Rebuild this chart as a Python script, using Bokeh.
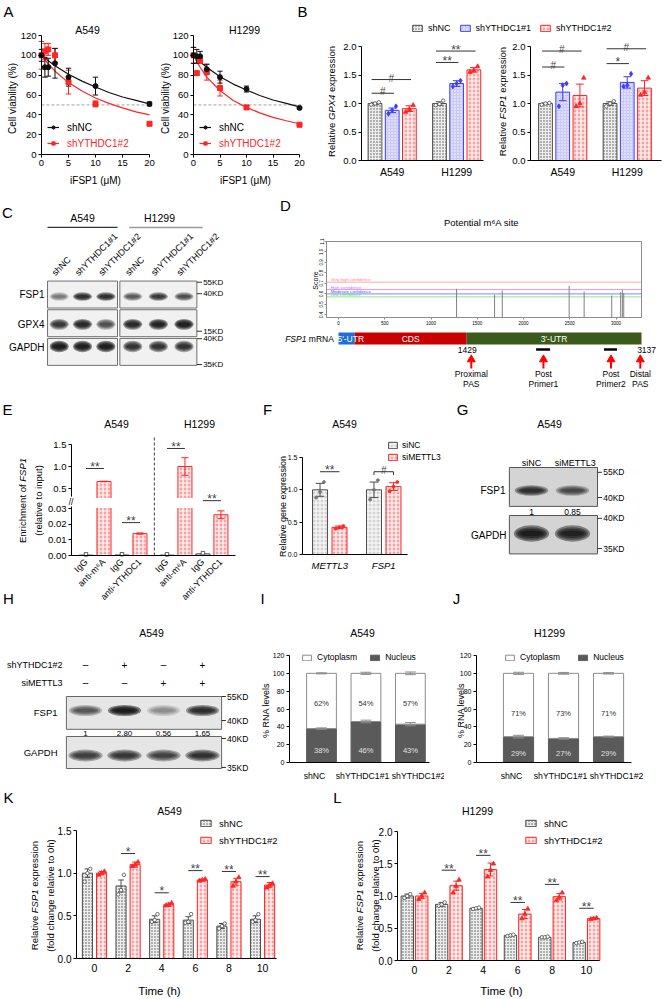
import math
from bokeh.plotting import figure
from bokeh.models import (Label, Range1d, FixedTicker, Legend, LegendItem, PrintfTickFormatter)
from bokeh.layouts import row, column
from bokeh.embed import file_html
from bokeh.resources import INLINE
from bokeh.core.properties import value

FONT = "Liberation Sans"
RED = "#ff2525"
DARK = "#4d4d4d"

# ============================ DATA ============================
# A: cell viability (%) vs iFSP1 (uM)
conc = [0, 0.625, 1.25, 2.5, 5, 10, 20]
a549_shNC = [100, 88, 88, 92, 78, 69, 51]
a549_shNC_sd = [6, 10, 9, 15, 9, 9, 2]
a549_sh2 = [100, 104, 106, 100, 73, 51, 31]
a549_sh2_sd = [14, 8, 6, 7, 12, 3, 1]
h1299_shNC = [100, 99, 99, 86, 78, 66, 47]
h1299_shNC_sd = [8, 7, 5, 5, 6, 3, 1]
h1299_sh2 = [100, 82, 95, 83, 67, 47.5, 30]
h1299_sh2_sd = [8, 2, 3, 8, 8, 2, 1]
fit_conc = [0, 0.625, 1.25, 2.5, 5, 7.5, 10, 12.5, 15, 17.5, 20]
a549_fit_shNC = [100, 97, 94.5, 89.5, 81, 74, 68, 62.5, 58, 54.5, 51]
a549_fit_sh2 = [100, 95.5, 91.5, 84, 72.5, 64, 57, 51.5, 47, 43, 40]
h1299_fit_shNC = [100, 97, 93.5, 88, 78.5, 71, 65, 59.5, 55, 51.5, 48]
h1299_fit_sh2 = [100, 93.5, 88, 78, 64.5, 54.5, 47.5, 42, 37.5, 34, 31]

# B: relative expression (per group: [A549, H1299])
cells = ["A549", "H1299"]
sh_groups = ["shNC", "shYTHDC1#1", "shYTHDC1#2"]
gpx4_mean = [[1.00, 1.00], [0.88, 1.35], [0.91, 1.59]]
gpx4_se = [[0.02, 0.03], [0.04, 0.05], [0.05, 0.04]]
gpx4_pts = [[[0.98, 1.00, 1.02], [0.97, 0.99, 1.05]],
            [[0.82, 0.88, 0.95], [1.30, 1.35, 1.40]],
            [[0.85, 0.90, 0.97], [1.55, 1.58, 1.65]]]
gpx4_sig = [(0, 0, 1, 1.18, "#"), (0, 0, 2, 1.42, "#"), (1, 0, 1, 1.72, "**"), (1, 0, 2, 1.92, "**")]
fsp1_mean = [[1.00, 1.00], [1.20, 1.37], [1.14, 1.27]]
fsp1_se = [[0.01, 0.03], [0.15, 0.10], [0.20, 0.13]]
fsp1_pts = [[[0.98, 1.00, 1.01], [0.95, 1.00, 1.04]],
            [[0.95, 1.32, 1.35], [1.30, 1.32, 1.52]],
            [[0.95, 1.00, 1.45], [1.15, 1.20, 1.45]]]
fsp1_sig = [(0, 0, 1, 1.64, "#"), (0, 0, 2, 1.92, "#"), (1, 0, 1, 1.70, "*"), (1, 0, 2, 1.96, "#")]

# C: western blot band intensities (rows: FSP1, GPX4, GAPDH; lanes A549 x3, H1299 x3)
C_lane_x = [0, 1, 2, 3.15, 4.25, 5.35]
C_lane_names = ["shNC", "shYTHDC1#1", "shYTHDC1#2", "shNC", "shYTHDC1#1", "shYTHDC1#2"]
C_proteins = ["FSP1", "GPX4", "GAPDH"]
C_intensity = [[0.35, 0.80, 0.80, 0.50, 0.70, 0.55],
               [0.70, 0.85, 0.55, 0.85, 0.90, 0.95],
               [1.00, 0.95, 0.95, 0.75, 0.75, 0.75]]
C_kd = ["55KD", "40KD", "15KD", "40KD", "35KD"]
C_kd_y = [0.06, 0.46, 1.77, 2.03, 2.93]

# D: SRAMP potential m6A sites
site_pos = [1276, 1687, 1770, 2493, 2655, 2953, 3050, 3068, 3083]
site_score = [0.649, 0.594, 0.633, 0.677, 0.623, 0.585, 0.616, 0.639, 0.607]
conf_names = ["Very high confidence", "High confidence", "Moderate confidence", "Low confidence"]
conf_levels = [0.712, 0.642, 0.600, 0.572]
conf_colors = ["#ff8080", "#d070f0", "#5050ff", "#60e060"]
reg_names = ["5'-UTR", "CDS", "3'-UTR"]
reg_start = [0, 175, 1385]
reg_end = [175, 1385, 3275]
reg_colors = ["#1f6fd6", "#c80000", "#3b5a1c"]
primer_start = [2136, 2870]
primer_end = [2287, 3010]
mark_x = [1435, 2215, 2945, 3262]
mark_l1 = ["Proximal", "Post", "Post", "Distal"]
mark_l2 = ["PAS", "Primer1", "Primer2", "PAS"]
pas_labels = ["1429", "3137"]
pas_label_x = [1392, 3330]

# E: RIP enrichment of FSP1
E_x = [0, 1, 2, 3, 4.5, 5.5, 6.5, 7.5]
E_labels = ["IgG", "anti-m⁶A", "IgG", "anti-YTHDC1", "IgG", "anti-m⁶A", "IgG", "anti-YTHDC1"]
E_val = [0.0002, 0.66, 0.0003, 0.014, 0.0002, 1.00, 0.0010, 0.026]
E_err = [0.0001, 0.005, 0.0001, 0.0004, 0.0001, 0.20, 0.0002, 0.0025]
E_yticks = [0, 0.01, 0.02, 0.03, 0.5, 1.0, 1.5]
E_ytick_labels = ["0.00", "0.01", "0.02", "0.03", "0.5", "1.0", "1.5"]
E_sig = [(0, 1, 0.955), (2, 3, 0.021), (4.5, 5.5, 1.41), (6.5, 7.5, 0.035)]

# F: siMETTL3 qPCR
F_genes = ["METTL3", "FSP1"]
F_siNC = [1.00, 1.00]
F_siNC_se = [0.10, 0.12]
F_siM = [0.42, 1.05]
F_siM_se = [0.02, 0.06]
F_siNC_pts = [[0.88, 0.97, 1.12], [0.85, 1.00, 1.15]]
F_siM_pts = [[0.40, 0.42, 0.44], [0.98, 1.05, 1.12]]
F_sig = [(0, 1.28, "**"), (1, 1.28, "#")]

# G: blot siNC / siMETTL3
G_lanes = ["siNC", "siMETTL3"]
G_lane_x = [0, 1]
G_fsp1 = [0.75, 0.55]
G_gapdh = [0.95, 0.90]
G_ratio = ["1", "0.85"]
G_kd = ["55KD", "40KD", "40KD", "35KD"]
G_kd_y = [0.10, 0.625, 1.06, 1.69]

# H: blot shYTHDC1#2 / siMETTL3
H_lane_x = [0, 1, 2, 3]
H_sh = ["–", "+", "–", "+"]
H_si = ["–", "–", "+", "+"]
H_fsp1 = [0.50, 1.00, 0.25, 0.80]
H_gapdh = [0.65, 0.70, 0.62, 0.75]
H_ratio = ["1", "2.80", "0.56", "1.65"]
H_kd = ["55KD", "40KD", "40KD", "35KD"]
H_kd_y = [0.0, 0.60, 1.05, 1.775]

# I / J: nuclear / cytoplasmic fractions
IJ_groups = ["shNC", "shYTHDC1#1", "shYTHDC1#2"]
I_nuc = [38, 46, 43]
I_cyto = [62, 54, 57]
I_nuc_se = [0.8, 1.5, 1.8]
I_tot_se = [0.6, 1.2, 1.5]
J_nuc = [29, 27, 29]
J_cyto = [71, 73, 71]
J_nuc_se = [1.5, 0.8, 0.6]
J_tot_se = [1.2, 1.0, 0.8]

# K / L: FSP1 mRNA decay
times = [0, 2, 4, 6, 8, 10]
K_shNC = [1.00, 0.85, 0.46, 0.45, 0.38, 0.46]
K_shNC_se = [0.05, 0.07, 0.04, 0.04, 0.03, 0.04]
K_sh2 = [1.00, 1.10, 0.63, 0.92, 0.90, 0.86]
K_sh2_se = [0.02, 0.03, 0.02, 0.01, 0.04, 0.03]
K_shNC_pts = [[0.90, 1.00, 1.05], [0.75, 0.80, 0.98], [0.43, 0.45, 0.52], [0.42, 0.43, 0.52], [0.35, 0.38, 0.41], [0.43, 0.45, 0.52]]
K_sh2_pts = [[0.98, 1.00, 1.02], [1.08, 1.10, 1.13], [0.62, 0.63, 0.65], [0.91, 0.92, 0.93], [0.85, 0.90, 0.95], [0.83, 0.86, 0.88]]
K_sig = [(2, 1.23, "*"), (4, 0.77, "*"), (6, 1.03, "**"), (8, 1.02, "**"), (10, 0.96, "**")]
L_shNC = [1.00, 0.87, 0.81, 0.39, 0.36, 0.28]
L_shNC_se = [0.03, 0.03, 0.01, 0.01, 0.01, 0.01]
L_sh2 = [1.00, 1.16, 1.41, 0.72, 0.99, 0.65]
L_sh2_se = [0.04, 0.07, 0.10, 0.07, 0.05, 0.01]
L_shNC_pts = [[0.97, 1.00, 1.03], [0.85, 0.87, 0.90], [0.80, 0.81, 0.82], [0.38, 0.39, 0.40], [0.36, 0.36, 0.37], [0.27, 0.28, 0.29]]
L_sh2_pts = [[0.95, 1.00, 1.05], [1.05, 1.15, 1.25], [1.30, 1.40, 1.50], [0.65, 0.72, 0.80], [0.93, 0.98, 1.05], [0.64, 0.65, 0.66]]
L_sig = [(2, 1.40, "**"), (4, 1.63, "**"), (6, 0.90, "**"), (8, 1.18, "**"), (10, 0.81, "**")]

# ============================ HELPERS ============================
# reference pixel -> page pixel (page body has no margin; keep 1px slack on the right/bottom)


def T(rx):
    return int(round(rx - 1))


def V(ry):
    return int(round(ry))


_W = {' ': 278, '!': 278, '%': 889, '(': 333, ')': 333, '#': 556, '.': 278, ',': 278, '-': 333,
      '/': 278, "'": 191, '+': 584, '–': 556, 'μ': 576, '⁶': 333, ':': 278}
_U = dict(A=667, B=667, C=722, D=722, E=667, F=611, G=778, H=722, I=278, J=500, K=667, L=556, M=833,
          N=722, O=778, P=667, Q=778, R=722, S=667, T=611, U=722, V=667, W=944, X=667, Y=667, Z=611)
_L = dict(a=556, b=556, c=500, d=556, e=556, f=278, g=556, h=556, i=222, j=222, k=500, l=222, m=833,
          n=556, o=556, p=556, q=556, r=333, s=500, t=278, u=556, v=500, w=722, x=500, y=500, z=500)


def tw(s, size):
    return sum(_W.get(c, _U.get(c, _L.get(c, 556))) for c in s) / 1000.0 * size


class Pan:
    pass


def mkp(box, area=None, xd=(0, 1), yd=(0, 1), axes=True, xr_obj=None, xb=None, yb=None):
    """Full-frame figure. `area` (ref px) is where data xd (left,right) / yd (bottom,top) lie."""
    x0, x1, y0, y1 = box
    if area is None:
        area = box
    fx0, fx1, fy0, fy1 = area
    rx0, rx1 = T(x0) + 1, T(x1) + 1
    ry0, ry1 = V(y0), V(y1)

    def fxm(rx):
        return xd[0] + (rx - fx0) / (fx1 - fx0) * (xd[1] - xd[0])

    def fym(ry):
        return yd[1] + (ry - fy0) / (fy1 - fy0) * (yd[0] - yd[1])

    xr = xr_obj if xr_obj is not None else Range1d(fxm(rx0), fxm(rx1))
    yr = Range1d(fym(ry1), fym(ry0))
    kw = {} if axes else dict(x_axis_location=None, y_axis_location=None)
    p = figure(width=T(x1) - T(x0), height=V(y1) - V(y0), x_range=xr, y_range=yr,
               output_backend="svg", toolbar_location=None, title=None, min_border=0,
               min_border_left=0, min_border_right=0, min_border_top=0, min_border_bottom=0, **kw)
    p.outline_line_color = None
    p.background_fill_color = "white"
    p.border_fill_color = "white"
    p.grid.visible = False
    if axes:
        p.xaxis.fixed_location = yd[0]
        p.yaxis.fixed_location = xd[0]
        p.xaxis.bounds = tuple(xb or xd)
        p.yaxis.bounds = tuple(yb or yd)
    P = Pan()
    P.p = p
    P.fl = T(x0)
    P.fb = V(y1)
    return P


def lab(P, rx, ry, text, size=10, color="black", align="center", baseline="middle", angle=0,
        style="normal", bg=None):
    kw = dict(background_fill_color=bg) if bg else {}
    P.p.add_layout(Label(x=(rx - 1) - P.fl, y=P.fb - ry, x_units="screen", y_units="screen",
                         text=text, text_font=FONT, text_font_size=f"{size}px", text_color=color,
                         text_align=align, text_baseline=baseline, angle=angle,
                         text_font_style=style, **kw))


def rich(P, rx, ry, segs, size, vertical=True, color="black"):
    total = sum(tw(t, size) for t, _ in segs)
    pos = -total / 2.0
    for t, st in segs:
        lead = len(t) - len(t.lstrip())
        off = pos + tw(" " * lead, size)
        if vertical:
            lab(P, rx, ry - off, t.strip(), size, color, "left", "middle", math.pi / 2, st)
        else:
            lab(P, rx + off, ry, t.strip(), size, color, "left", "middle", 0, st)
        pos += tw(t, size)


def legend(P, items, rx, ry, size, color="black", orientation="vertical", gw=12, gh=8, standoff=6,
           spacing=4):
    ih = round(size * 1.3)
    n = len(items)
    if orientation == "vertical":
        bottom = ry - ih / 2.0 + n * ih + (n - 1) * spacing
    else:
        bottom = ry + ih / 2.0
    loc = ((rx - 1) - P.fl, P.fb - bottom)
    lg = Legend(items=[LegendItem(label=l, renderers=r) for l, r in items], location=loc,
                orientation=orientation, label_text_font=FONT, label_text_font_size=f"{size}px",
                label_text_color=color, glyph_width=gw, glyph_height=gh, label_standoff=standoff,
                spacing=spacing, padding=0, margin=0, border_line_color=None,
                background_fill_alpha=0, label_height=ih, label_width=5)
    P.p.add_layout(lg)


def axstyle(p, xsize=10, ysize=10, xticks=True, color="black"):
    for ax in list(p.xaxis) + list(p.yaxis):
        ax.axis_line_color = color
        ax.axis_line_width = 1
        ax.major_tick_line_color = color
        ax.major_tick_out = 3
        ax.major_tick_in = 0
        ax.minor_tick_line_color = None
        ax.major_label_text_font = FONT
        ax.major_label_standoff = 2
        ax.major_label_text_color = "black"
    for ax in p.xaxis:
        ax.major_label_text_font_size = f"{xsize}px"
        if not xticks:
            ax.major_tick_line_color = None
    for ax in p.yaxis:
        ax.major_label_text_font_size = f"{ysize}px"


def errbars(p, xs, ms, es, color, cap, width=1):
    lo = [m - e for m, e in zip(ms, es)]
    hi = [m + e for m, e in zip(ms, es)]
    p.segment(x0=xs, y0=lo, x1=xs, y1=hi, line_color=color, line_width=width)
    p.segment(x0=[x - cap for x in xs], y0=hi, x1=[x + cap for x in xs], y1=hi, line_color=color, line_width=width)
    p.segment(x0=[x - cap for x in xs], y0=lo, x1=[x + cap for x in xs], y1=lo, line_color=color, line_width=width)


def points(p, xs, pts, dx, marker, size, fill, line):
    px, py = [], []
    for x, vals in zip(xs, pts):
        for k, v in enumerate(vals):
            px.append(x + (k - (len(vals) - 1) / 2.0) * dx)
            py.append(v)
    p.scatter(px, py, marker=marker, size=size, fill_color=fill, line_color=line, line_width=0.8)


def sig(p, x1, x2, y, txt, bracket=0.0):
    p.segment(x0=[x1], y0=[y], x1=[x2], y1=[y], line_color="#333333", line_width=1)
    if bracket:
        p.segment(x0=[x1, x2], y0=[y, y], x1=[x1, x2], y1=[y - bracket, y - bracket],
                  line_color="#333333", line_width=1)
    size = 10 if txt == "#" else 12
    p.add_layout(Label(x=(x1 + x2) / 2.0, y=y, text=txt, text_font=FONT, text_font_size=f"{size}px",
                       text_align="center", text_baseline="alphabetic", y_offset=1.5))


S_NC = dict(fill_color="#ececec", line_color=DARK, hatch_pattern="dot", hatch_color="#555555",
            hatch_scale=3.0, hatch_weight=0.6)
S_1 = dict(fill_color="#c9caf7", line_color="#3c3cff", hatch_pattern="dot", hatch_color="#ffffff",
           hatch_scale=3.0, hatch_weight=0.7)
S_2 = dict(fill_color="#f7a3a3", line_color=RED, hatch_pattern="cross", hatch_color="#ffffff",
           hatch_scale=4.0, hatch_weight=1.2)
S_SI = dict(fill_color="#d3d3d3", line_color=DARK, hatch_pattern="cross", hatch_color="#ffffff",
            hatch_scale=4.0, hatch_weight=1.0)
MK_NC = ("circle", 3.5, "white", DARK)
MK_1 = ("diamond", 5, "#3c3cff", "#3c3cff")
MK_2 = ("triangle", 4.5, RED, RED)


def blotbands(p, xs, yc, inten, w, h):
    for k in range(4):
        p.ellipse(x=xs, y=[yc] * len(xs), width=w * (1 - 0.12 * k), height=h * (1 - 0.22 * k),
                  fill_color="#0c0c0c", fill_alpha=[0.47 * i for i in inten], line_color=None)


def dtext(p, xs, ys, texts, size, align="center", color="black", style="normal", angle=0, baseline="middle"):
    p.text(x=xs, y=ys, text=texts, text_font=value(FONT), text_font_size=f"{size}px", text_align=align,
           text_baseline=baseline, text_color=color, text_font_style=style, angle=angle)


# ============================ PANEL A ============================
def viability(box, area, title, tx, m1, e1, m2, e2, f1, f2, ylab_x, xlab_x, leg_x):
    P = mkp(box, area, (0, 20), (0, 120))
    p = P.p
    axstyle(p, 9.5, 9.5)
    p.xaxis.ticker = FixedTicker(ticks=[0, 5, 10, 15, 20])
    p.yaxis.ticker = FixedTicker(ticks=[0, 20, 40, 60, 80, 100, 120])
    p.segment(x0=[0], y0=[50], x1=[20.3], y1=[50], line_color="#a0a0a0", line_dash="3 2", line_width=1)
    l1 = p.line(fit_conc, f1, line_color="#111111", line_width=1.2)
    l2 = p.line(fit_conc, f2, line_color=RED, line_width=1.2)
    errbars(p, conc, m2, e2, RED, 0.5)
    errbars(p, conc, m1, e1, "#111111", 0.5)
    s2 = p.scatter(conc, m2, marker="square", size=5, color=RED)
    s1 = p.scatter(conc, m1, marker="circle", size=5, color="#111111")
    lab(P, tx, 29, title, 10.5)
    lab(P, ylab_x, 98, "Cell viability (%)", 10, angle=math.pi / 2)
    lab(P, xlab_x, 180, "iFSP1 (μM)", 10)
    legend(P, [("shNC", [l1, s1])], leg_x, 127, 10, color="black", gw=12, gh=8, standoff=8)
    legend(P, [("shYTHDC1#2", [l2, s2])], leg_x, 143, 10, color=RED, gw=12, gh=8, standoff=8)
    return P


A1 = viability((1, 156, 0, 195), (42, 150, 35, 154), "A549", 88, a549_shNC, a549_shNC_sd, a549_sh2,
               a549_sh2_sd, a549_fit_shNC, a549_fit_sh2, 13, 96, 48)
lab(A1, 9, 11, "A", 15)
A2 = viability((156, 310, 0, 195), (194, 300, 35, 154), "H1299", 245, h1299_shNC, h1299_shNC_sd, h1299_sh2,
               h1299_sh2_sd, h1299_fit_shNC, h1299_fit_sh2, 166, 246, 200)
lab(A2, 303, 11, "B", 15)

# ============================ PANEL B ============================
Bleg = mkp((310, 664, 0, 38), None, (0, 1), (0, 1), axes=False)
leg_r = [Bleg.p.vbar(x=[5], top=[1], width=0.5, line_width=1, **s) for s in (S_NC, S_1, S_2)]
legend(Bleg, [(g, [r]) for g, r in zip(sh_groups, leg_r)], 412, 28, 9, orientation="horizontal",
       gw=12, gh=8, standoff=5, spacing=8)


def expr(box, area, xd, means, ses, pts, sigs, segs, ylab_x):
    P = mkp(box, area, xd, (0, 2.0))
    p = P.p
    axstyle(p, 10.5, 9.5, xticks=False)
    p.xaxis.ticker = FixedTicker(ticks=[1, 4.75])
    p.xaxis.major_label_overrides = {1: cells[0], 4.75: cells[1]}
    p.yaxis.ticker = FixedTicker(ticks=[0, 0.5, 1.0, 1.5, 2.0])
    p.yaxis.formatter = PrintfTickFormatter(format="%.1f")
    for j, (m, e, pt, sty, mkr) in enumerate(zip(means, ses, pts, (S_NC, S_1, S_2), (MK_NC, MK_1, MK_2))):
        xs = [i * 3.75 + j for i in range(len(m))]
        p.vbar(x=xs, top=m, bottom=0, width=0.8, line_width=1, **sty)
        errbars(p, xs, m, e, sty["line_color"], 0.22)
        points(p, xs, pt, 0.22, *mkr)
    for c, g1, g2, y, t in sigs:
        sig(p, c * 3.75 + g1 - 0.2, c * 3.75 + g2 + 0.1, y, t)
    rich(P, ylab_x, 101, segs, 9.5)
    return P


B1 = expr((310, 495, 38, 195), (362, 484, 46, 160), (-0.785, 6.31), gpx4_mean, gpx4_se, gpx4_pts, gpx4_sig,
          [("Relative ", "normal"), ("GPX4", "italic"), (" expression", "normal")], 332)
B2 = expr((495, 664, 38, 195), (531, 662, 46, 160), (-0.872, 6.74), fsp1_mean, fsp1_se, fsp1_pts, fsp1_sig,
          [("Relative ", "normal"), ("FSP1", "italic"), (" expression", "normal")], 503)

# ============================ PANEL C ============================
C = mkp((1, 280, 195, 400), (59.7, 83.03, 280, 308.67), (0, 1), (1, 0), axes=False)
pc = C.p
c_boxes = [(-0.5, 2.5), (2.6, 5.9)]
for r in range(3):
    pc.quad(left=[b[0] for b in c_boxes], right=[b[1] for b in c_boxes], top=[r + 0.02] * 2,
            bottom=[r + 0.96] * 2, fill_color="#f1f1f1", line_color="#707070", line_width=1)
for r, (yo, hh) in enumerate([(0.56, 0.30), (0.53, 0.38), (0.30, 0.40)]):
    blotbands(pc, C_lane_x, r + yo, C_intensity[r], 0.82, hh)
dtext(pc, [x - 0.25 for x in C_lane_x], [-0.22] * 6, C_lane_names, 9, align="left", angle=math.pi / 4)
pc.segment(x0=[-0.5], y0=[-1.85], x1=[2.5], y1=[-1.85], line_color="#333333", line_width=1.2)
pc.segment(x0=[3.0], y0=[-1.85], x1=[6.15], y1=[-1.85], line_color="#9a9a9a", line_width=1.5)
pc.segment(x0=[5.9] * 5, y0=C_kd_y, x1=[6.12] * 5, y1=C_kd_y, line_color="#333333", line_width=1)
dtext(pc, [6.17] * 5, C_kd_y, C_kd, 8, align="left")
lab(C, 83, 217, "A549", 10.5)
lab(C, 160, 217, "H1299", 10.5)
for name, yy in zip(C_proteins, [294, 324, 347]):
    lab(C, 45, yy, name, 10, align="right")
lab(C, 8, 212, "C", 15)

# ============================ PANEL D ============================
Dt = mkp((280, 664, 195, 328), (327, 642, 241, 317), (-130, 3275), (0.375, 1.1))
D_xr = Dt.p.x_range
pd = Dt.p
axstyle(pd, 4.5, 4.5, color="#8c8c8c")
for ax in list(pd.xaxis) + list(pd.yaxis):
    ax.major_tick_out = 2
    ax.major_label_standoff = 1
pd.xaxis.ticker = FixedTicker(ticks=[0, 500, 1000, 1500, 2000, 2500, 3000])
pd.yaxis.ticker = FixedTicker(ticks=[0.4, 0.5, 0.6, 0.7, 0.8, 0.9, 1.0, 1.1])
pd.yaxis.formatter = PrintfTickFormatter(format="%.1f")
pd.yaxis.major_label_orientation = "vertical"
pd.quad(left=[-130], right=[3275], bottom=[0.375], top=[1.1], fill_color=None, line_color="#8c8c8c", line_width=1)
pd.segment(x0=[-130] * 4, y0=conf_levels, x1=[3275] * 4, y1=conf_levels, line_color=conf_colors, line_width=1,
           line_alpha=0.7)
for nm, lv, cl in zip(conf_names, conf_levels, conf_colors):
    pd.add_layout(Label(x=-85, y=lv, text=nm, text_font=FONT, text_font_size="4.3px", text_color=cl,
                        text_align="left", text_baseline="bottom"))
pd.segment(x0=site_pos, y0=[0.375] * len(site_pos), x1=site_pos, y1=site_score, line_color="#808080",
           line_width=1)
lab(Dt, 482, 222, "Potential m⁶A site", 9.5)
lab(Dt, 316, 280, "Score", 7, angle=math.pi / 2)
lab(Dt, 286, 205, "D", 15)

Db = mkp((280, 664, 328, 400), (327, 642, 328, 400), (-130, 3275), (400, 328), axes=False, xr_obj=D_xr)
pb = Db.p
pb.quad(left=reg_start, right=reg_end, top=[332] * 3, bottom=[344] * 3, fill_color=reg_colors, line_color=None)
dtext(pb, [-12], [338.5], [reg_names[0]], 8.5, align="left", color="white")
dtext(pb, [(reg_start[1] + reg_end[1]) / 2.0, (reg_start[2] + reg_end[2]) / 2.0], [338.5, 338.5],
      reg_names[1:], 8.5, color="white")
pb.segment(x0=primer_start, y0=[349] * 2, x1=primer_end, y1=[349] * 2, line_color="black", line_width=2.5)
pb.segment(x0=mark_x, y0=[368] * 4, x1=mark_x, y1=[360] * 4, line_color="#ff0000", line_width=2)
pb.scatter(mark_x, [359] * 4, marker="triangle", size=8, fill_color="#ff0000", line_color="#ff0000")
dtext(pb, pas_label_x, [349, 349], pas_labels, 8.5)
dtext(pb, mark_x, [373.5] * 4, mark_l1, 8.5)
dtext(pb, mark_x, [383] * 4, mark_l2, 8.5)
rich(Db, 310, 338, [("FSP1", "italic"), (" mRNA", "normal")], 8.5, vertical=False)


# ============================ PANEL E ============================
def disp(v):
    return v / 0.03 * 47.0 if v <= 0.1 else 67.0 + (v - 0.5) * 44.0


E = mkp((1, 258, 400, 608), (72, 236, 444, 555), (-0.806, 8.31), (0, 111))
pe = E.p
axstyle(pe, 9, 9.5, xticks=False)
pe.xaxis.ticker = FixedTicker(ticks=E_x)
pe.xaxis.major_label_overrides = {x: l for x, l in zip(E_x, E_labels)}
pe.xaxis.major_label_orientation = math.pi / 4
pe.yaxis.ticker = FixedTicker(ticks=[disp(v) for v in E_yticks])
pe.yaxis.major_label_overrides = {disp(v): l for v, l in zip(E_yticks, E_ytick_labels)}
igg = [i for i in range(8) if i % 2 == 0]
anti = [i for i in range(8) if i % 2 == 1]
pe.vbar(x=[E_x[i] for i in anti], top=[disp(E_val[i]) for i in anti], bottom=0, width=0.78, line_width=1, **S_2)
pe.vbar(x=[E_x[i] for i in igg], top=[disp(E_val[i]) for i in igg], bottom=0, width=0.78, fill_color=None,
        line_color="#333333", line_width=1)
lo = [disp(E_val[i] - E_err[i]) for i in anti]
hi = [disp(E_val[i] + E_err[i]) for i in anti]
pe.segment(x0=[E_x[i] for i in anti], y0=lo, x1=[E_x[i] for i in anti], y1=hi, line_color=RED, line_width=1)
pe.segment(x0=[E_x[i] - 0.2 for i in anti], y0=hi, x1=[E_x[i] + 0.2 for i in anti], y1=hi, line_color=RED)
pe.segment(x0=[E_x[i] - 0.2 for i in anti], y0=lo, x1=[E_x[i] + 0.2 for i in anti], y1=lo, line_color=RED)
pe.scatter([E_x[i] for i in igg], [disp(E_val[i]) + 0.8 for i in igg], marker="square", size=3.5,
           fill_color="white", line_color="#333333", line_width=0.8)
pe.quad(left=[-0.78], right=[8.31], bottom=[47.5], top=[57.5], fill_color="white", line_color=None)
pe.segment(x0=[3.8], y0=[0], x1=[3.8], y1=[118], line_color="#444444", line_dash="3 2", line_width=1)
for x1, x2, y in E_sig:
    sig(pe, x1, x2, disp(y), "**")
lab(E, 71.5, 501, "//", 8.5, bg="white")
lab(E, 117, 423, "A549", 10.5)
lab(E, 200, 423, "H1299", 10.5)
rich(E, 23, 500, [("Enrichment of ", "normal"), ("FSP1", "italic")], 9.5)
rich(E, 39, 500, [("(relative to input)", "normal")], 9.5)
lab(E, 8, 409, "E", 15)
lab(E, 9, 598, "H", 15)

# ============================ PANEL F ============================
F = mkp((258, 445, 400, 608), (303, 408, 457, 554), (-0.9, 4.49), (0, 1.5))
pf = F.p
axstyle(pf, 9.5, 7, xticks=False)
pf.xaxis.major_label_text_font_style = "italic"
pf.xaxis.ticker = FixedTicker(ticks=[0.5, 3.27])
pf.xaxis.major_label_overrides = {0.5: F_genes[0], 3.27: F_genes[1]}
pf.yaxis.ticker = FixedTicker(ticks=[0, 0.5, 1.0, 1.5])
pf.yaxis.formatter = PrintfTickFormatter(format="%.1f")
fx_nc = [i * 2.77 for i in range(2)]
fx_si = [i * 2.77 + 1 for i in range(2)]
rf1 = pf.vbar(x=fx_nc, top=F_siNC, bottom=0, width=0.77, line_width=1, **S_SI)
rf2 = pf.vbar(x=fx_si, top=F_siM, bottom=0, width=0.77, line_width=1, **S_2)
errbars(pf, fx_nc, F_siNC, F_siNC_se, DARK, 0.22)
errbars(pf, fx_si, F_siM, F_siM_se, RED, 0.22)
points(pf, fx_nc, F_siNC_pts, 0.2, "circle", 3, "#777777", "#777777")
points(pf, fx_si, F_siM_pts, 0.2, "circle", 3, RED, RED)
for g, y, t in F_sig:
    sig(pf, fx_nc[g], fx_si[g], y, t, bracket=(0.05 if t == "#" else 0))
legend(F, [("siNC", [rf1]), ("siMETTL3", [rf2])], 388, 445, 8.5, gw=11, gh=8, standoff=4, spacing=1)
lab(F, 345, 423, "A549", 10.5)
lab(F, 283, 506, "Relative gene expression", 9, angle=math.pi / 2)
lab(F, 268, 409, "F", 15)
lab(F, 263, 598, "I", 15)

# ============================ PANEL G ============================
G = mkp((445, 664, 400, 608), (532, 573, 467, 515), (0, 1), (1, 0), axes=False)
pg = G.p
pg.quad(left=[-0.54] * 2, right=[1.61] * 2, top=[0, 1.0], bottom=[0.81, 1.8], fill_color="#d4d4d4",
        line_color="#555555", line_width=1)
blotbands(pg, G_lane_x, 0.48, G_fsp1, 0.82, 0.22)
blotbands(pg, G_lane_x, 1.375, G_gapdh, 0.86, 0.34)
dtext(pg, [0, 1.07], [-0.09] * 2, G_lanes, 9)
dtext(pg, G_lane_x, [0.92] * 2, G_ratio, 8.5)
pg.segment(x0=[1.61] * 4, y0=G_kd_y, x1=[1.72] * 4, y1=G_kd_y, line_color="#333333", line_width=1)
dtext(pg, [1.75] * 4, G_kd_y, G_kd, 8.5, align="left")
lab(G, 550, 423, "A549", 10.5)
lab(G, 506, 490, "FSP1", 10, align="right")
lab(G, 507, 535, "GAPDH", 10, align="right")
lab(G, 463, 409, "G", 15)
lab(G, 457, 598, "J", 15)

# ============================ PANEL H ============================
H = mkp((1, 255, 608, 785), (86, 125, 696, 736), (0, 1), (1, 0), axes=False)
ph = H.p
ph.quad(left=[-0.49] * 2, right=[3.49] * 2, top=[0, 1.0], bottom=[0.82, 1.8], fill_color="#e6e6e6",
        line_color="#666666", line_width=1)
blotbands(ph, H_lane_x, 0.35, H_fsp1, 0.85, 0.28)
blotbands(ph, H_lane_x, 1.475, H_gapdh, 0.88, 0.3)
dtext(ph, H_lane_x, [-0.8] * 4, H_sh, 10)
dtext(ph, H_lane_x, [-0.35] * 4, H_si, 10)
dtext(ph, H_lane_x, [0.925] * 4, H_ratio, 8)
ph.segment(x0=[3.49] * 4, y0=H_kd_y, x1=[3.6] * 4, y1=H_kd_y, line_color="#333333", line_width=1)
dtext(ph, [3.63] * 4, H_kd_y, H_kd, 8.5, align="left")
lab(H, 152, 632, "A549", 10.5)
lab(H, 63, 664, "shYTHDC1#2", 9, align="right")
lab(H, 63, 682, "siMETTL3", 9, align="right")
lab(H, 58, 712, "FSP1", 9.5, align="right")
lab(H, 58, 752, "GAPDH", 9.5, align="right")


# ============================ PANELS I / J ============================
def fraction(box, area, xd, nuc, cyto, nuc_se, tot_se, title, tx, ylab_x, leg_x, leg_sp, cy_lab, nu_lab, lab_x):
    P = mkp(box, area, xd, (0, 120))
    p = P.p
    axstyle(p, 9, 7, xticks=False)
    p.xaxis.ticker = FixedTicker(ticks=[])
    p.yaxis.ticker = FixedTicker(ticks=[0, 20, 40, 60, 80, 100, 120])
    xs = [0, 1, 2]
    tot = [n + c for n, c in zip(nuc, cyto)]
    rn = p.vbar(x=xs, top=nuc, bottom=0, width=0.67, fill_color="#5a5a5a", line_color="#5a5a5a")
    rc = p.vbar(x=xs, top=tot, bottom=nuc, width=0.67, fill_color="white", line_color="#8c8c8c", line_width=1)
    errbars(p, xs, tot, tot_se, "#8c8c8c", 0.12)
    errbars(p, xs, nuc, nuc_se, "#8c8c8c", 0.12)
    dtext(p, xs, [cy_lab] * 3, [f"{c}%" for c in cyto], 7.5, color="#333333")
    dtext(p, xs, [nu_lab] * 3, [f"{n}%" for n in nuc], 7.5, color="#e0e0e0")
    legend(P, [("Cytoplasm", [rc]), ("Nucleus", [rn])], leg_x, 657, 8.5, orientation="horizontal",
           gw=11, gh=7, standoff=5, spacing=leg_sp)
    for g, lx in zip(IJ_groups, lab_x):
        lab(P, lx, 775, g, 8.7)
    lab(P, tx, 632, title, 10.5)
    lab(P, ylab_x, 710, "% RNA levels", 9, angle=math.pi / 2)
    return P


I = fraction((255, 445, 608, 785), (290, 430, 655, 762), (-0.72, 2.43), I_nuc, I_cyto, I_nuc_se, I_tot_se,
             "A549", 363, 266, 302, 12, 66, 14, [315, 363, 419])
J = fraction((445, 664, 608, 785), (477, 632, 655, 762), (-0.933, 2.51), J_nuc, J_cyto, J_nuc_se, J_tot_se,
             "H1299", 550, 461, 505, 17, 55, 10, [512, 561, 617])


# ============================ PANELS K / L ============================
def decay(box, area, xd, ymax, yticks, m1, e1, p1, m2, e2, p2, sigs, width, title, tx, leg_x, ylx, xlab_x):
    P = mkp(box, area, xd, (0, ymax))
    p = P.p
    axstyle(p, 10.5, 10, xticks=False)
    p.xaxis.ticker = FixedTicker(ticks=times)
    p.yaxis.ticker = FixedTicker(ticks=yticks)
    p.yaxis.formatter = PrintfTickFormatter(format="%.1f")
    x1 = [t - 0.42 for t in times]
    x2 = [t + 0.42 for t in times]
    r1 = p.vbar(x=x1, top=m1, bottom=0, width=width, line_width=1, **S_NC)
    r2 = p.vbar(x=x2, top=m2, bottom=0, width=width, line_width=1, **S_2)
    errbars(p, x1, m1, e1, DARK, 0.17)
    errbars(p, x2, m2, e2, RED, 0.17)
    points(p, x1, p1, 0.17, *MK_NC)
    points(p, x2, p2, 0.17, *MK_2)
    for t, y, s in sigs:
        sig(p, t - 0.42, t + 0.42, y, s)
    legend(P, [("shNC", [r1]), ("shYTHDC1#2", [r2])], leg_x, 823, 9.5, gw=13, gh=8, standoff=7, spacing=5)
    lab(P, tx, 810, title, 10.5)
    rich(P, ylx, 895, [("Relative ", "normal"), ("FSP1", "italic"), (" expression", "normal")], 9.5)
    rich(P, ylx + 16, 895, [("(fold change relative to 0h)", "normal")], 9.5)
    lab(P, xlab_x, 990, "Time (h)", 11.5)
    return P


K = decay((1, 330, 785, 998), (77, 277, 830, 958), (-1.07, 10.83), 1.5, [0, 0.5, 1.0, 1.5], K_shNC, K_shNC_se,
          K_shNC_pts, K_sh2, K_sh2_se, K_sh2_pts, K_sig, 0.6, "A549", 170, 200, 35, 160)
lab(K, 9, 797, "K", 15)
L = decay((330, 664, 785, 998), (398, 600, 831, 960), (-0.99, 10.76), 2.0, [0, 0.5, 1.0, 1.5, 2.0], L_shNC,
          L_shNC_se, L_shNC_pts, L_sh2, L_sh2_se, L_sh2_pts, L_sig, 0.72, "H1299", 478, 525, 360, 502)
lab(L, 338, 797, "L", 15)

# ============================ LAYOUT ============================
band1 = row(A1.p, A2.p, column(Bleg.p, row(B1.p, B2.p)))
band2 = row(C.p, column(Dt.p, Db.p))
band3 = row(E.p, F.p, G.p)
band4 = row(H.p, I.p, J.p)
band5 = row(K.p, L.p)
layout = column(band1, band2, band3, band4, band5)

open("out.html", "w").write(file_html(layout, INLINE, "FSP1 / YTHDC1 figure"))
